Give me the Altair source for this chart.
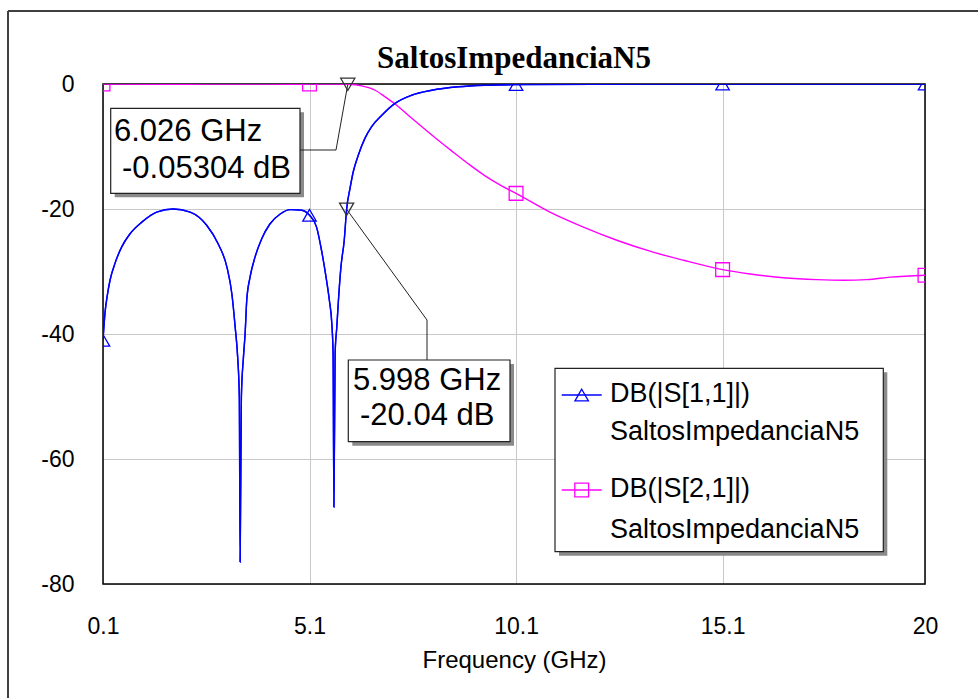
import altair as alt
import pandas as pd

# ---- data ----
s11_freq = [0.1, 0.15, 0.2, 0.27, 0.39, 0.55, 0.75, 1.04, 1.4, 1.8, 2.21, 2.61, 2.89, 3.1, 3.22,
            3.3, 3.36, 3.4, 3.42, 3.45, 3.5, 3.54, 3.58, 3.66, 3.78, 3.94, 4.14, 4.39, 4.63, 4.91,
            5.1, 5.27, 5.39, 5.5, 5.58, 5.64, 5.67, 5.69, 5.72, 5.76, 5.8, 5.86, 5.94, 5.998,
            6.08, 6.16, 6.28, 6.44, 6.6, 6.85, 7.17, 7.57, 8.06, 8.7, 9.35, 10.1, 12.0, 15.1, 20.0]
s11_db = [-41.0, -36.5, -34.0, -31.4, -28.7, -26.1, -24.0, -22.1, -20.5, -20.0, -20.5, -22.6, -25.6, -29.3, -33.6,
          -38.9, -43.7, -50.0, -76.5, -50.0, -43.7, -40.0, -34.6, -30.9, -27.7, -24.8, -22.4, -20.8, -20.1, -20.2,
          -21.0, -22.9, -26.6, -30.9, -34.6, -38.4, -43.0, -67.7, -43.0, -38.9, -34.6, -29.3, -25.0, -20.04,
          -16.7, -14.0, -11.4, -8.7, -6.85, -5.0, -3.1, -1.8, -1.0, -0.45, -0.2, -0.1, -0.04, -0.02, -0.01]

s21_freq = [0.1, 1.8, 3.42, 4.7, 5.69, 6.026, 6.36, 6.69, 6.93, 7.21, 7.49, 7.82, 8.14, 8.54, 8.95,
            9.35, 9.75, 10.1, 10.92, 11.73, 12.54, 13.34, 14.15, 15.1, 15.77, 16.57, 17.38, 18.03,
            18.59, 19.16, 20.0]
s21_db = [0.0, -0.04, 0.0, -0.04, 0.0, -0.05304, -0.3, -1.0, -2.05, -3.4, -5.0, -6.85, -8.6, -10.7, -12.8,
          -14.7, -16.3, -17.5, -20.5, -22.9, -25.0, -26.75, -28.2, -29.7, -30.4, -31.0, -31.3, -31.4,
          -31.3, -30.9, -30.6]

marker_freq = [0.1, 5.1, 10.1, 15.1, 20.0]
s11_marker_db = [-41.0, -21.0, -0.1, -0.02, -0.01]
s21_marker_db = [0.0, -0.01, -17.5, -29.7, -30.6]

x_ticks = [0.1, 5.1, 10.1, 15.1, 20]
y_ticks = [-80, -60, -40, -20, 0]

mk_freq = [6.026, 5.998]
mk_db = [-0.05304, -20.04]
mk_line1 = ["6.026 GHz", "5.998 GHz"]
mk_line2 = ["-0.05304 dB", "-20.04 dB"]

series_names = ["DB(|S[1,1]|)", "DB(|S[2,1]|)"]
source_name = "SaltosImpedanciaN5"
title_text = "SaltosImpedanciaN5"
x_title = "Frequency (GHz)"

BLUE = "#0000ff"
MAGENTA = "#ff00ff"
SANS = "Liberation Sans"

W, H = 822, 500
xs = alt.Scale(domain=[0.1, 20], nice=False, zero=False)
ys = alt.Scale(domain=[-80, 0], nice=False, zero=False)

one = pd.DataFrame({"k": [0]})


def rect(x1, y1, x2, y2, **kw):
    return alt.Chart(one).mark_rect(**kw).encode(
        x=alt.value(x1), x2=alt.value(x2), y=alt.value(y1), y2=alt.value(y2))


def seg(x1, y1, x2, y2, **kw):
    return alt.Chart(one).mark_rule(**kw).encode(
        x=alt.value(x1), x2=alt.value(x2), y=alt.value(y1), y2=alt.value(y2))


def label(x, y, text, size, **kw):
    return alt.Chart(one).mark_text(align="left", baseline="alphabetic", font=SANS,
                                    fontSize=size, color="black", **kw).encode(
        x=alt.value(x), y=alt.value(y), text=alt.value(text))


def sym(x, y, shape, color, size):
    return alt.Chart(one).mark_point(shape=shape, filled=False, color=color, size=size,
                                     strokeWidth=1.3, opacity=1).encode(
        x=alt.value(x), y=alt.value(y))


df11 = pd.DataFrame({"f": s11_freq, "db": s11_db})
df21 = pd.DataFrame({"f": s21_freq, "db": s21_db})

xaxis = alt.Axis(values=x_ticks, title=x_title, labelFlush=False, labelOverlap=False,
                 labelExpr="format(datum.value, '.3~g')")
yaxis = alt.Axis(values=y_ticks, title=None,
                 labelExpr="datum.value < 0 ? '-' + abs(datum.value) : '' + datum.value")

base_line = alt.Chart(df11).mark_line(color=BLUE, strokeWidth=1.4, clip=True,
                                      interpolate="monotone").encode(
    x=alt.X("f:Q", scale=xs, axis=xaxis),
    y=alt.Y("db:Q", scale=ys, axis=yaxis),
)
line21 = alt.Chart(df21).mark_line(color=MAGENTA, strokeWidth=1.4, clip=True,
                                   interpolate="monotone").encode(
    x=alt.X("f:Q", scale=xs), y=alt.Y("db:Q", scale=ys))

m11 = alt.Chart(pd.DataFrame({"f": marker_freq, "db": s11_marker_db})).mark_point(
    shape="triangle-up", filled=False, color=BLUE, size=180, strokeWidth=1.3, clip=True, opacity=1
).encode(x=alt.X("f:Q", scale=xs), y=alt.Y("db:Q", scale=ys))
m21 = alt.Chart(pd.DataFrame({"f": marker_freq, "db": s21_marker_db})).mark_point(
    shape="square", filled=False, color=MAGENTA, size=190, strokeWidth=1.3, clip=True, opacity=1
).encode(x=alt.X("f:Q", scale=xs), y=alt.Y("db:Q", scale=ys))

mk_df = pd.DataFrame({"f": mk_freq, "db": mk_db})
mk_pts = alt.Chart(mk_df).mark_point(
    shape="triangle-down", filled=False, color="#333333", size=200, strokeWidth=1.3, opacity=1
).encode(x=alt.X("f:Q", scale=xs), y=alt.Y("db:Q", scale=ys))

lead1a = alt.Chart(mk_df.iloc[[0]]).mark_rule(color="#222222", strokeWidth=1).encode(
    x=alt.X("f:Q", scale=xs), y=alt.Y("db:Q", scale=ys), x2=alt.value(233), y2=alt.value(66))
lead1b = seg(233, 66, 197, 66, color="#222222", strokeWidth=1)
lead2a = alt.Chart(mk_df.iloc[[1]]).mark_rule(color="#222222", strokeWidth=1).encode(
    x=alt.X("f:Q", scale=xs), y=alt.Y("db:Q", scale=ys), x2=alt.value(324), y2=alt.value(236))
lead2b = seg(324, 236, 324, 276, color="#222222", strokeWidth=1)

SH = 4
box1 = [rect(7.7 + SH, 24.3 + SH, 197 + SH, 109.3 + SH, color="#8a8a8a"),
        rect(7.7, 24.3, 197, 109.3, fill="white", stroke="#222222", strokeWidth=1.2),
        label(11, 57, mk_line1[0], 31), label(19, 94, mk_line2[0], 31)]
box2 = [rect(245.3 + SH, 276 + SH, 407 + SH, 357.7 + SH, color="#8a8a8a"),
        rect(245.3, 276, 407, 357.7, fill="white", stroke="#222222", strokeWidth=1.2),
        label(250, 305.5, mk_line1[1], 31), label(257, 341, mk_line2[1], 31)]

legend = [rect(452 + SH, 284.3 + SH, 780.3 + SH, 467.7 + SH, color="#8a8a8a"),
          rect(452, 284.3, 780.3, 467.7, fill="white", stroke="#222222", strokeWidth=1.2),
          seg(458.7, 311, 498.7, 311, color=BLUE, strokeWidth=1.4),
          sym(478.7, 311, "triangle-up", BLUE, 180),
          seg(458.7, 406, 498.7, 406, color=MAGENTA, strokeWidth=1.4),
          sym(478.7, 406, "square", MAGENTA, 190),
          label(507, 317.5, series_names[0], 27), label(507, 356, source_name, 27),
          label(507, 412.5, series_names[1], 27), label(507, 454, source_name, 27)]

border = rect(0, 0, W, H, fill=None, filled=False, stroke="black", strokeWidth=1.5)
frame = [seg(-95, -73, 875, -73, color="#404040", strokeWidth=2),
         seg(-95, -73, -95, 614, color="#404040", strokeWidth=2)]
title = alt.Chart(one).mark_text(align="center", baseline="alphabetic", font="Liberation Serif",
                                 fontWeight="bold", fontSize=31, color="black").encode(
    x=alt.value(W / 2), y=alt.value(-16), text=alt.value(title_text))

chart = alt.layer(
    base_line, border, *frame, title, line21, base_line, m11, m21,
    *box1, *box2, lead1a, lead1b, lead2a, lead2b, mk_pts, *legend
).properties(
    width=W, height=H, autosize=alt.AutoSizeParams(type="none"),
    padding={"left": 103, "top": 84, "right": 53, "bottom": 114},
).configure_view(stroke=None).configure_axis(
    grid=True, gridColor="#c8c8c8", gridWidth=1, domain=False, ticks=False,
    labelFont=SANS, labelFontSize=23, labelColor="black",
    titleFont=SANS, titleFontSize=24, titleFontWeight="normal", titleColor="black",
).configure_axisX(labelPadding=31, titlePadding=10).configure_axisY(labelPadding=29)

chart.save("out.html", embed_options={"renderer": "svg", "actions": False})
